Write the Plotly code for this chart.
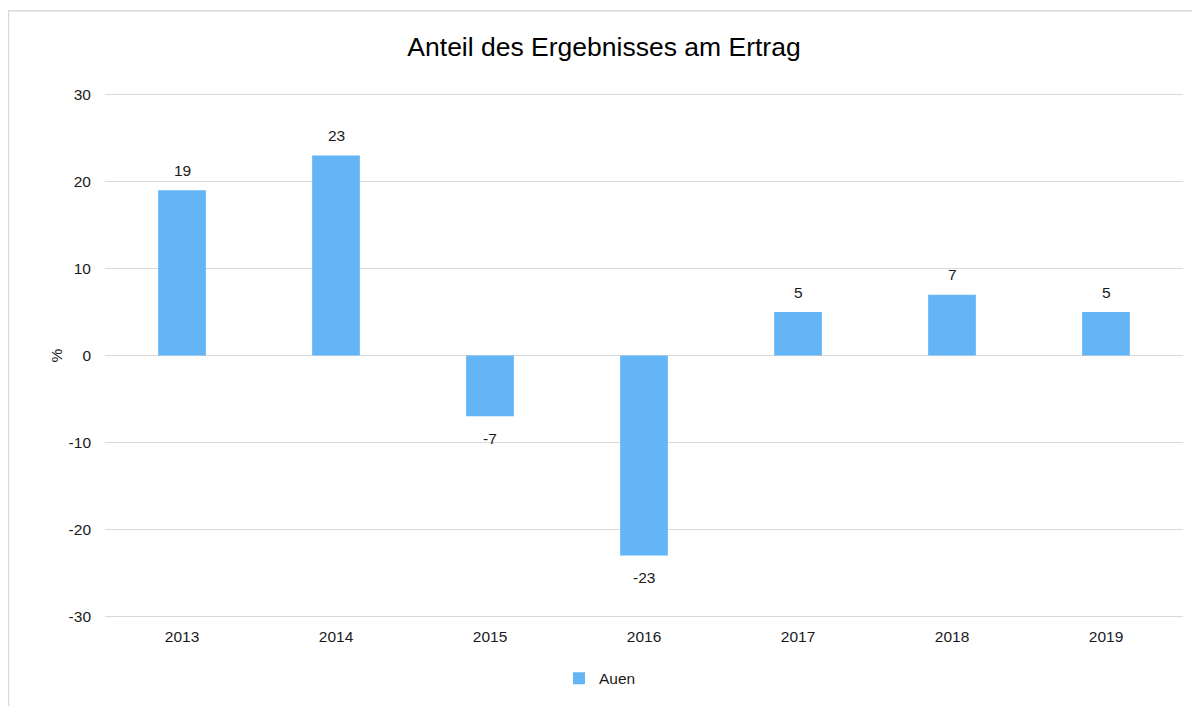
import plotly.graph_objects as go

years = ["2013", "2014", "2015", "2016", "2017", "2018", "2019"]
values = [19, 23, -7, -23, 5, 7, 5]
series_name = "Auen"
y_ticks = [-30, -20, -10, 0, 10, 20, 30]
y_tick_text = ["-30", "-20", "-10", "0", "10", "20", "30"]

OFF = 8  # default page body margin
PAD = 0.2  # small range padding so edge gridlines are drawn
UNIT = (616.5 - 94.5) / 60.0
W, H = 1200 - OFF, 706 - OFF
L = 105 - OFF
R = W - (1183 - OFF)
T = 94.5 - OFF - PAD * UNIT
B = H - (616.5 - OFF) - PAD * UNIT
pw, ph = W - L - R, H - T - B

def px(sx):
    return (sx - OFF - L) / pw

def py(sy):
    return (H - B - (sy - OFF)) / ph

FONT = "Liberation Sans, Arial"
TXT = "#1a1a1a"

fig = go.Figure()
fig.add_trace(go.Bar(
    x=years, y=values, name=series_name,
    marker=dict(color="#64b5f6", line=dict(width=0)),
    cliponaxis=False,
))

# category axis: annotation x given as category index
for i, v in enumerate(values):
    fig.add_annotation(x=i, y=v, text=str(v), showarrow=False,
                       xanchor="center", yanchor="middle",
                       yshift=20 if v >= 0 else -22,
                       font=dict(size=15.5, color=TXT, family=FONT))

fig.update_layout(
    width=W, height=H,
    margin=dict(l=L, r=R, t=T, b=B, autoexpand=False),
    paper_bgcolor="white", plot_bgcolor="white",
    font=dict(family=FONT, size=15.5, color=TXT),
    title=dict(text="Anteil des Ergebnisses am Ertrag", x=0.5, xanchor="center",
               y=1 - (47 - OFF) / H, yanchor="middle",
               font=dict(size=26.5, color="#000000")),
    bargap=0.69,
    showlegend=True,
    legend=dict(orientation="h", x=0.5 - 44 / pw, xanchor="center",
                y=py(679), yanchor="middle", font=dict(size=15.5, color=TXT)),
    xaxis=dict(type="category", range=[-0.5, len(years) - 0.5],
               showgrid=False, showline=False, ticks="",
               ticklabelstandoff=7, tickfont=dict(size=15.5, color=TXT)),
    yaxis=dict(range=[-30 - PAD, 30 + PAD], tickvals=y_ticks, ticktext=y_tick_text,
               showgrid=True, gridcolor="#d9d9d9", gridwidth=1,
               zeroline=True, zerolinecolor="#d9d9d9", zerolinewidth=1,
               showline=False, ticks="", ticklabelstandoff=13,
               tickfont=dict(size=15.5, color=TXT),
               title=dict(text="%", standoff=2, font=dict(size=15.5, color=TXT))),
    shapes=[dict(type="rect", xref="paper", yref="paper",
                 x0=px(8.5), x1=px(1215), y0=py(720), y1=py(10.5),
                 line=dict(color="#d9d9d9", width=1.5), fillcolor="rgba(0,0,0,0)",
                 layer="below")],
)

fig.write_html("out.html")
